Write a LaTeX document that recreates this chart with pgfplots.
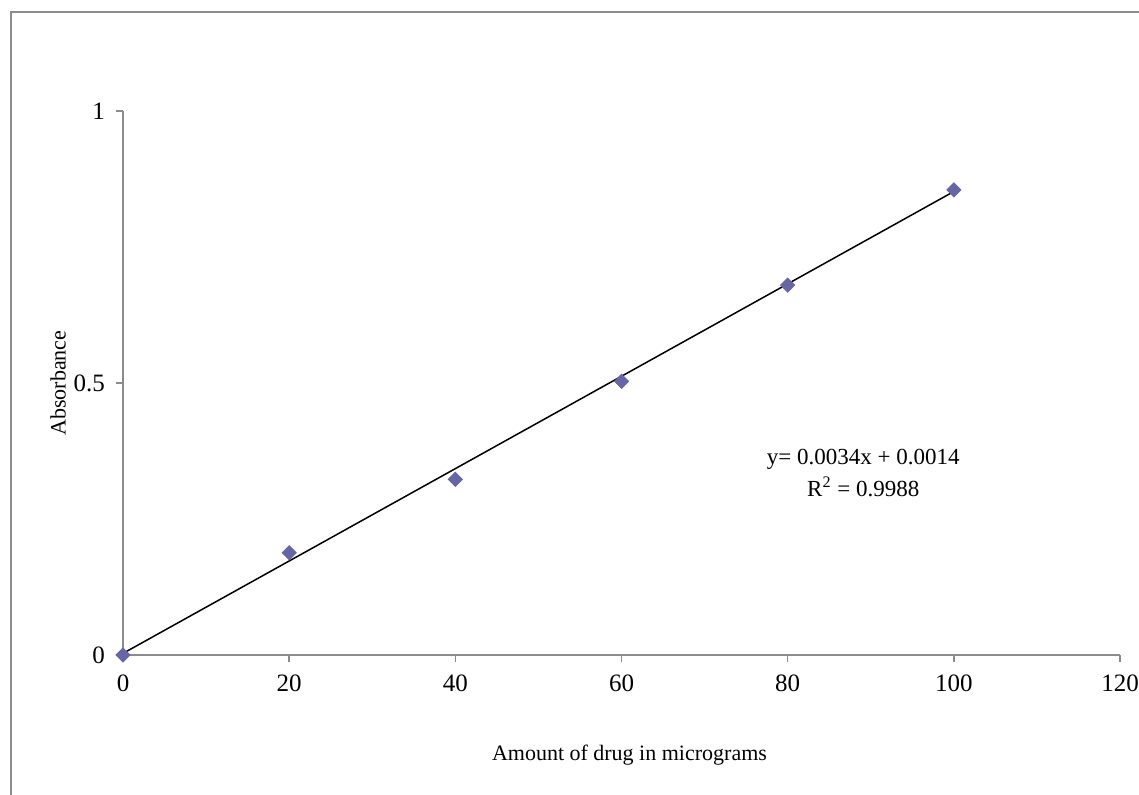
\documentclass[border=0pt]{standalone}
\usepackage{fontspec}
\setmainfont{Liberation Serif}
\usepackage{pgfplots}
\pgfplotsset{compat=1.18}

\definecolor{markblue}{RGB}{102,102,166}
\definecolor{framegray}{RGB}{140,140,140}

\begin{document}
\begin{tikzpicture}
% whole picture: 1139 x 794 px at 0.5pt per px
\path[use as bounding box] (0,0) rectangle (569.5pt,397pt);
\draw[framegray, line width=0.9pt] (5.5pt,-2pt) rectangle (571pt,391pt);

\begin{axis}[
  at={(61.5pt,69.5pt)}, anchor=south west,
  scale only axis,
  width=498.5pt, height=272pt,
  xmin=0, xmax=120, ymin=0, ymax=1,
  xtick={0,20,40,60,80,100,120},
  ytick={0,0.5,1},
  axis x line=bottom, axis y line=left,
  axis line style={framegray, line width=0.8pt, -},
  tick style={framegray, line width=0.8pt},
  tick align=outside,
  major tick length=3.5pt,
  /pgf/number format/assume math mode=true,
  ticklabel style={font=\fontsize{12.5}{14}\selectfont, black},
  xticklabel style={yshift=-3pt},
  yticklabel style={xshift=-2pt},
  xlabel={Amount of drug in micrograms},
  ylabel={Absorbance},
  label style={font=\fontsize{11}{13}\selectfont},
  xlabel style={at={(axis description cs:0.508,-0.184)}, anchor=center},
  ylabel style={at={(axis description cs:-0.065,0.5)}, anchor=center},
  clip=false,
]
% linear trend line
\addplot[black, line width=0.75pt] coordinates {(0,0.003) (100,0.852)};
% measured points
\addplot[only marks, mark=square*, mark size=2.5pt,
  mark options={fill=markblue, draw=markblue, rotate=45}]
  coordinates {
    (0,0)
    (20,0.188)
    (40,0.323)
    (60,0.503)
    (80,0.680)
    (100,0.855)
  };
\node[align=center, font=\fontsize{11.5}{16}\selectfont, inner sep=0pt]
  at (axis cs:89.1,0.335) {y= 0.0034x + 0.0014\\R\textsuperscript{2} = 0.9988};
\end{axis}
\end{tikzpicture}
\end{document}
